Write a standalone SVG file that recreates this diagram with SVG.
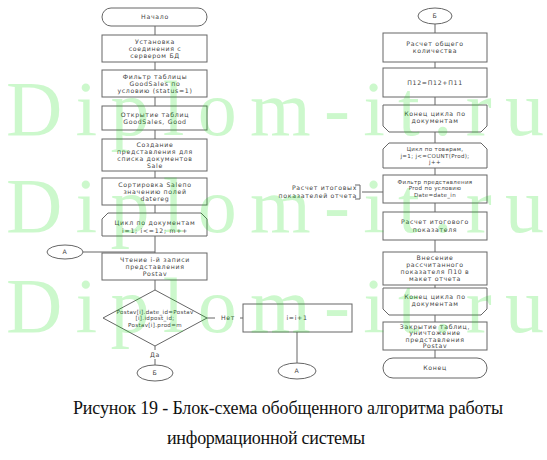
<svg xmlns="http://www.w3.org/2000/svg" width="547" height="460" viewBox="0 0 547 460">
<style>
.b{fill:#fff;stroke:#666;stroke-width:1}
.c{fill:none;stroke:#666;stroke-width:1}
.t{font-family:"DejaVu Sans","Liberation Sans",sans-serif;font-size:6.2px;letter-spacing:0.7px;fill:#444;text-anchor:middle}
.s{font-family:"DejaVu Sans","Liberation Sans",sans-serif;font-size:5.5px;letter-spacing:0.35px;fill:#444;text-anchor:middle}
.cap{font-family:"Liberation Serif","Times New Roman",serif;font-size:18px;fill:#111;text-anchor:middle}
.wm{font-family:"Liberation Serif","Times New Roman",serif;font-size:78px;fill:#00dd00;fill-opacity:0.2}
</style>
<rect width="547" height="460" fill="#fff"/>
<g id="connectors">
<path class="c" d="M155 26V35M155 62V70M155 97V106M155 130V139M155 171V178M155 205V213M155 236V253M155 280V290M155 346V365M207 318H243M297 332V363M83 252H155"/>
<path class="c" d="M435 24V33M435 62V68M435 97V105M435 132V143M435 168V175M435 203V212M435 240V252M435 285V288M435 315V322M435 350V358M362 192H383M355 185H360V199H355"/>
</g>
<g id="start"><rect class="b" x="102" y="8" width="105" height="18" rx="9"/><text class="t" x="155" y="19.3">Начало</text></g>
<g id="connect"><rect class="b" x="102" y="35" width="105" height="27"/><text class="t" x="155"><tspan x="155" y="43.6">Установка</tspan><tspan x="155" y="50.8">соединения с</tspan><tspan x="155" y="58">сервером БД</tspan></text></g>
<g id="filter"><rect class="b" x="102" y="70" width="105" height="27"/><text class="t" x="155"><tspan x="155" y="78.6">Фильтр таблицы</tspan><tspan x="155" y="85.8">GoodSales по</tspan><tspan x="155" y="93">условию (status=1)</tspan></text></g>
<g id="open"><rect class="b" x="102" y="106" width="105" height="24"/><text class="t" x="155"><tspan x="155" y="116.6">Открытие таблиц</tspan><tspan x="155" y="123.8">GoodSales, Good</tspan></text></g>
<g id="view"><rect class="b" x="102" y="139" width="105" height="32"/><text class="t" x="155"><tspan x="155" y="146.6">Создание</tspan><tspan x="155" y="153.8">представления для</tspan><tspan x="155" y="161">списка документов</tspan><tspan x="155" y="168.2">Sale</tspan></text></g>
<g id="sort"><rect class="b" x="102" y="178" width="105" height="27"/><text class="t" x="155"><tspan x="155" y="186.6">Сортировка Saleпо</tspan><tspan x="155" y="193.8">значению полей</tspan><tspan x="155" y="201">datereg</tspan></text></g>
<g id="loop1"><path class="b" d="M108 213H201L207 219V236H102V219Z"/><text class="t" x="155"><tspan x="155" y="225.3">Цикл по документам</tspan><tspan x="155" y="232.5">i=1; i&lt;=12; m++</tspan></text></g>
<g id="read"><rect class="b" x="102" y="253" width="105" height="27"/><text class="t" x="155"><tspan x="155" y="261.6">Чтение i-й записи</tspan><tspan x="155" y="268.8">представления</tspan><tspan x="155" y="276">Postav</tspan></text></g>
<g id="decision"><path class="b" d="M155 290L207 318L155 346L103 318Z"/><text class="s" x="155"><tspan x="155" y="313.8">Postav[i].date_id=Postav</tspan><tspan x="155" y="320.3">[i].idpost_id;</tspan><tspan x="155" y="326.8">Postav[i].prod=m</tspan></text></g>
<g id="yes"><rect x="146" y="350" width="18" height="9" fill="#fff"/><text class="t" x="155" y="357.3">Да</text></g>
<g id="no"><rect x="215" y="313" width="25" height="9" fill="#fff"/><text class="t" x="228" y="320.3">Нет</text></g>
<g id="offB"><ellipse class="b" cx="155" cy="373" rx="18" ry="8"/><text class="t" x="155" y="375.3">Б</text></g>
<g id="inc"><rect class="b" x="243" y="304" width="109" height="28"/><text class="t" x="297" y="320.3">i=i+1</text></g>
<g id="offA"><ellipse class="b" cx="297" cy="371" rx="19" ry="8"/><text class="t" x="297" y="373.3">А</text></g>
<g id="onA"><ellipse class="b" cx="65" cy="252" rx="18" ry="7"/><text class="t" x="65" y="254.3">А</text></g>
<g id="onB"><ellipse class="b" cx="435" cy="16" rx="17" ry="8"/><text class="t" x="435" y="18.3">Б</text></g>
<g id="total"><rect class="b" x="383" y="33" width="104" height="29"/><text class="t" x="435"><tspan x="435" y="45.8">Расчет общего</tspan><tspan x="435" y="53">количества</tspan></text></g>
<g id="p12"><rect class="b" x="383" y="68" width="104" height="29"/><text class="t" x="435" y="84.6">П12=П12+П11</text></g>
<g id="end1"><path class="b" d="M383 105H487V126L481 132H389L383 126Z"/><text class="t" x="435"><tspan x="435" y="116">Конец цикла по</tspan><tspan x="435" y="123.2">документам</tspan></text></g>
<g id="loop2"><path class="b" d="M389 143H481L487 149V168H383V149Z"/><text class="s" x="435"><tspan x="435" y="151.3">Цикл по товарам,</tspan><tspan x="435" y="157.8">j=1; j&lt;=COUNT(Prod);</tspan><tspan x="435" y="164.3">j++</tspan></text></g>
<g id="filter2"><rect class="b" x="383" y="175" width="104" height="28"/><text class="s" x="435"><tspan x="435" y="183.8">Фильтр представления</tspan><tspan x="435" y="190.3">Prod по условию</tspan><tspan x="435" y="196.8">Date=date_in</tspan></text></g>
<g id="note"><text class="t" style="text-anchor:end"><tspan x="357" y="190.3">Расчет итоговых</tspan><tspan x="357" y="197.8">показателей отчета</tspan></text></g>
<g id="calc"><rect class="b" x="383" y="212" width="104" height="28"/><text class="t" x="435"><tspan x="435" y="224.3">Расчет итогового</tspan><tspan x="435" y="231.5">показателя</tspan></text></g>
<g id="put"><rect class="b" x="383" y="252" width="104" height="33"/><text class="t" x="435"><tspan x="435" y="259.8">Внесение</tspan><tspan x="435" y="267">рассчитанного</tspan><tspan x="435" y="274.2">показателя П10 в</tspan><tspan x="435" y="281.4">макет отчета</tspan></text></g>
<g id="end2"><path class="b" d="M383 288H487V309L481 315H389L383 309Z"/><text class="t" x="435"><tspan x="435" y="299">Конец цикла по</tspan><tspan x="435" y="306.2">документам</tspan></text></g>
<g id="close"><rect class="b" x="383" y="322" width="104" height="28"/><text class="t" x="435"><tspan x="435" y="328.6">Закрытие таблиц,</tspan><tspan x="435" y="335.2">уничтожение</tspan><tspan x="435" y="341.8">представления</tspan><tspan x="435" y="348.4">Postav</tspan></text></g>
<g id="end"><rect class="b" x="383" y="358" width="104" height="20" rx="10"/><text class="t" x="435" y="370.3">Конец</text></g>
<g id="watermark">
<text class="wm" x="6" y="135" textLength="538">Diplom-it.ru</text>
<text class="wm" x="6" y="232" textLength="538">Diplom-it.ru</text>
<text class="wm" x="6" y="332" textLength="538">Diplom-it.ru</text>
</g>
<g id="caption">
<text class="cap" x="288" y="414" textLength="430">Рисунок 19 - Блок-схема обобщенного алгоритма работы</text>
<text class="cap" x="266" y="444" textLength="198">информационной системы</text>
</g>
</svg>
